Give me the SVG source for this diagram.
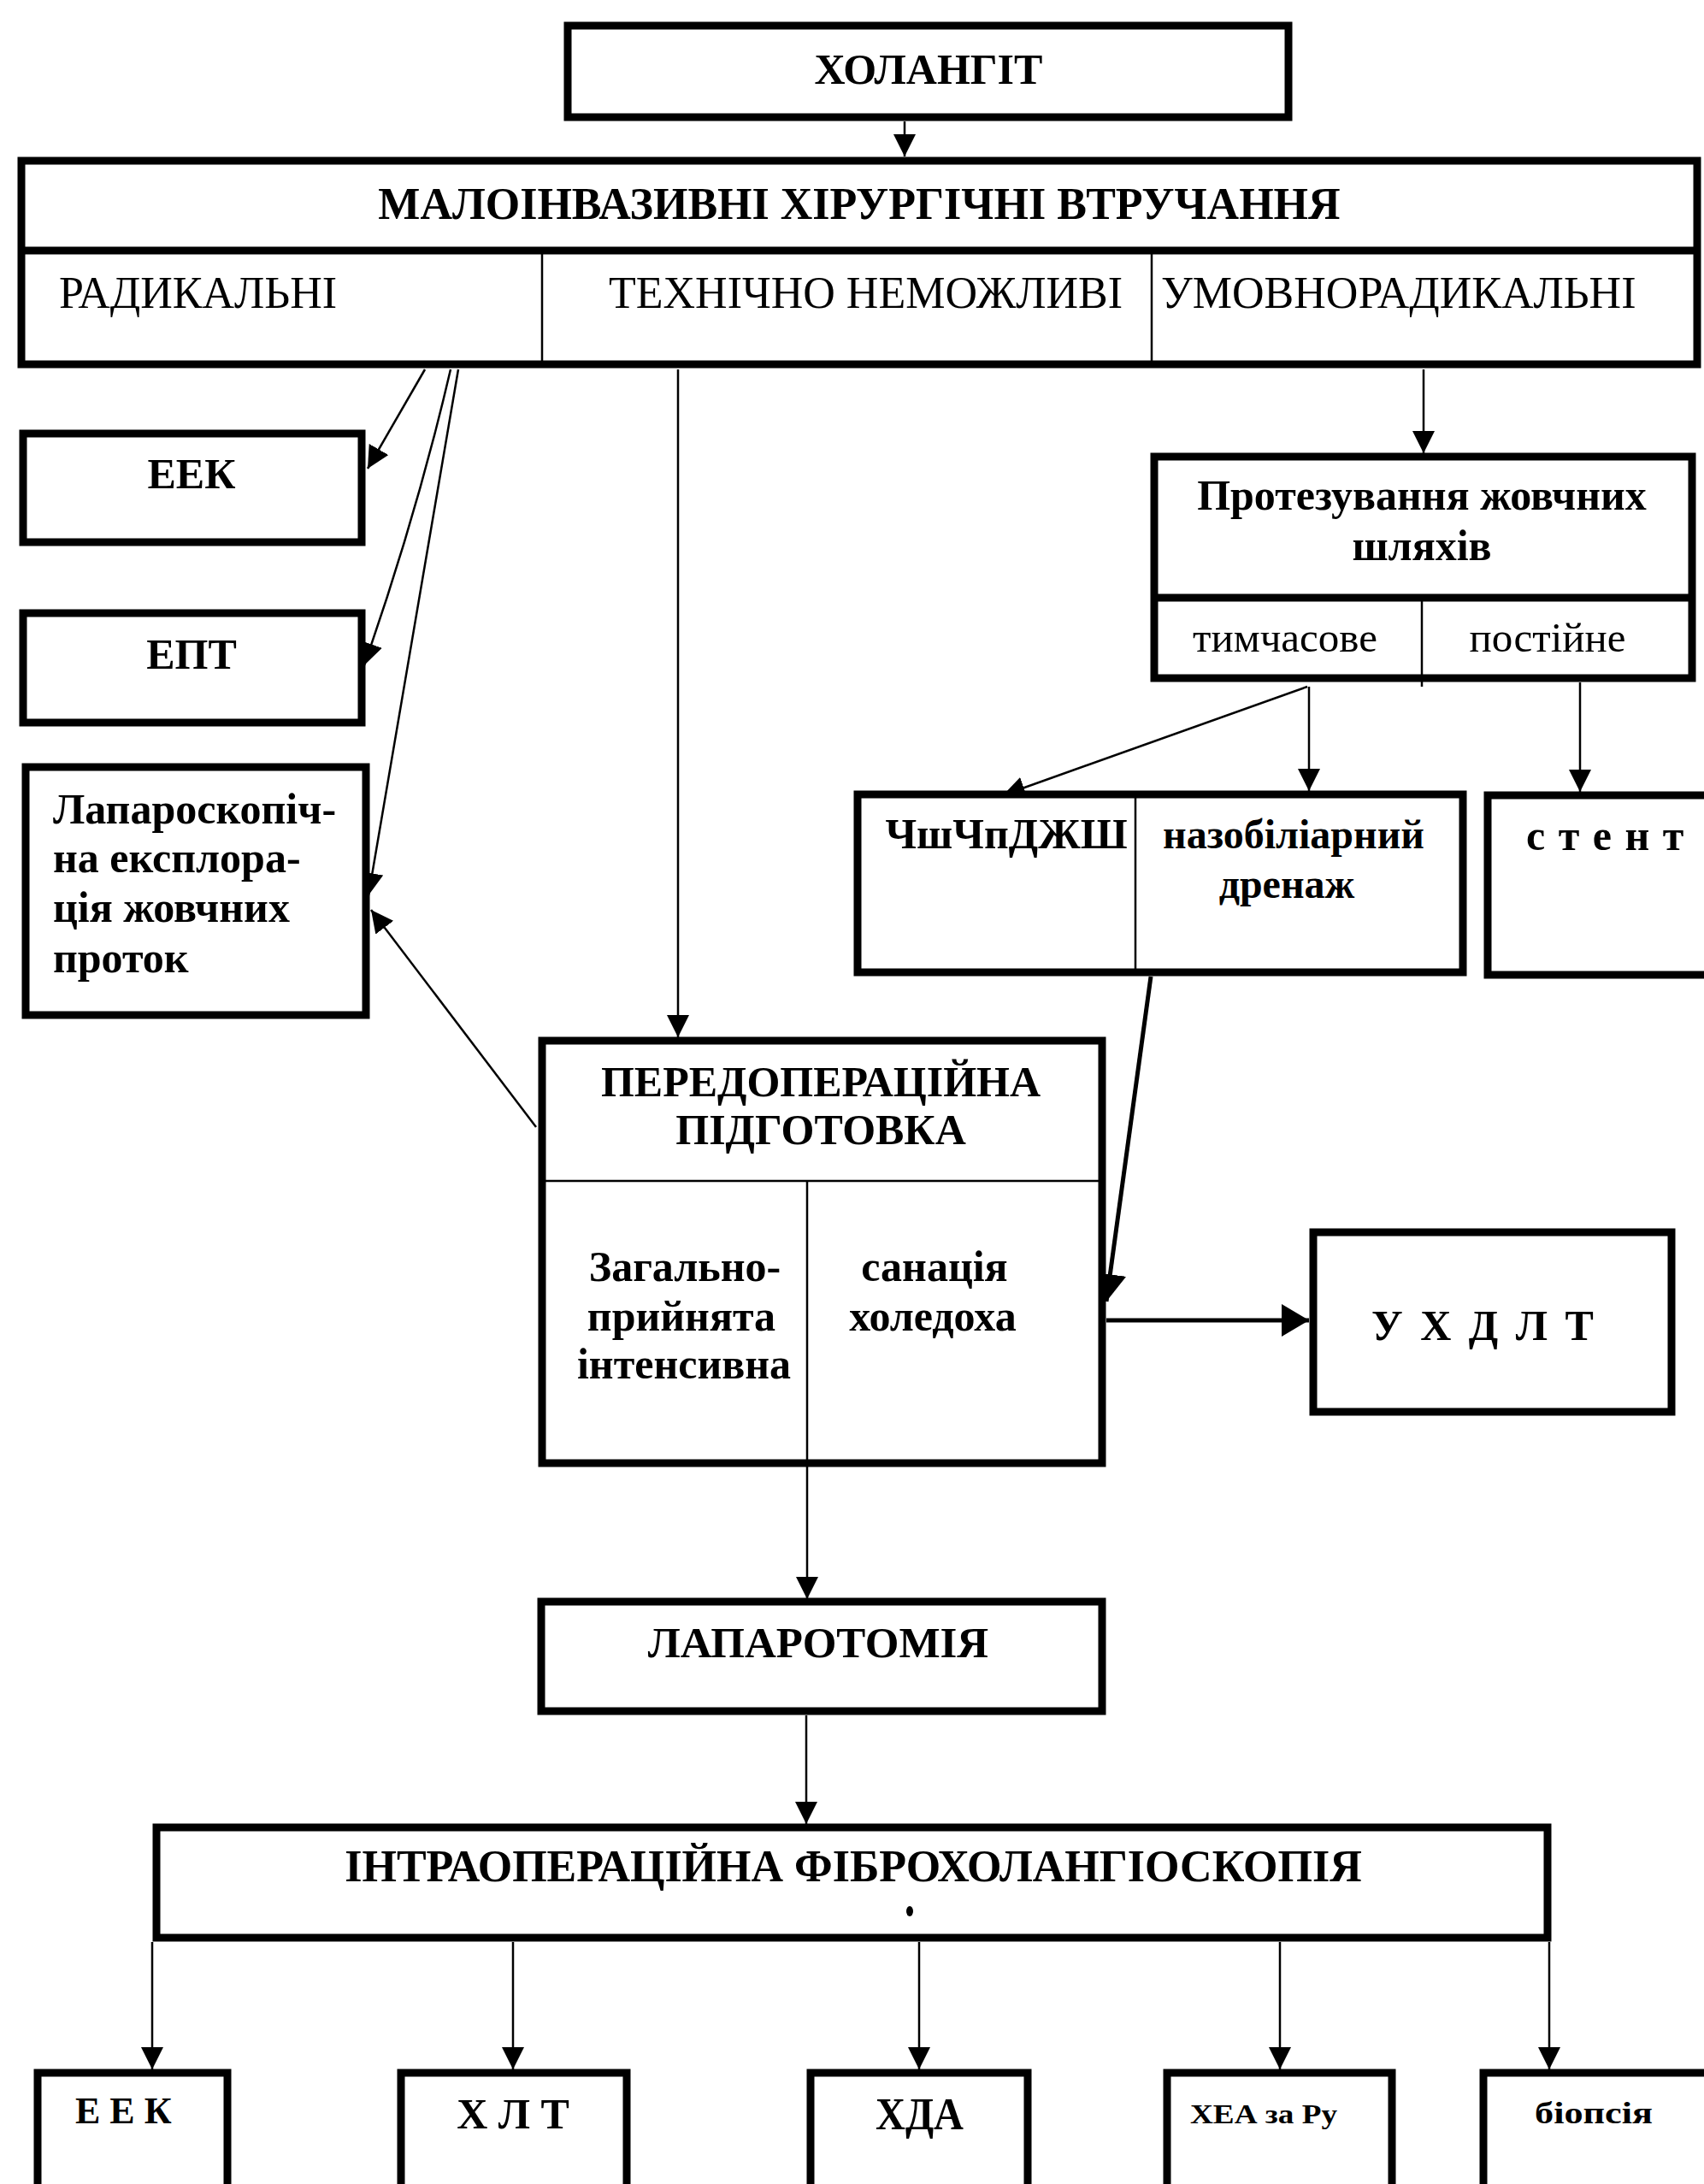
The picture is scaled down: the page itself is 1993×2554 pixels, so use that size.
<svg xmlns="http://www.w3.org/2000/svg" width="1993" height="2554" viewBox="0 0 1993 2554">
<style>
.box{fill:#fff;stroke:#000;stroke-width:9}
.div{stroke:#000;stroke-width:2.5;fill:none}
.divk{stroke:#000;stroke-width:9;fill:none}
.c{stroke:#000;stroke-width:2.5;fill:none}
.ck{stroke:#000;stroke-width:5;fill:none}
text{font-family:"Liberation Serif","Times New Roman",serif;fill:#000}
.b{font-weight:bold;font-size:50px}
.bm{font-weight:bold;font-size:48px}
.r{font-weight:normal;font-size:52px}
.rs{font-weight:normal;font-size:49px}
.m{text-anchor:middle}
</style>
<defs>
<marker id="ah" viewBox="0 0 10 10" refX="10" refY="5" markerUnits="userSpaceOnUse" markerWidth="26" markerHeight="26" orient="auto">
<path d="M0,0 L10,5 L0,10 z" fill="#000"/>
</marker>
<marker id="ahk" viewBox="0 0 10 10" refX="10" refY="5" markerUnits="userSpaceOnUse" markerWidth="32" markerHeight="38" orient="auto" preserveAspectRatio="none">
<path d="M0,0 L10,5 L0,10 z" fill="#000"/>
</marker>
</defs>

<g id="connectors">
<line class="c" x1="1058" y1="142" x2="1058" y2="183" marker-end="url(#ah)"/>
<line class="c" x1="497" y1="432" x2="430" y2="548" marker-end="url(#ah)"/>
<path class="c" d="M527,432 Q488,600 426,778" marker-end="url(#ah)"/>
<line class="c" x1="536" y1="432" x2="431" y2="1047" marker-end="url(#ah)"/>
<line class="c" x1="627" y1="1318" x2="434" y2="1064" marker-end="url(#ah)"/>
<line class="c" x1="793" y1="432" x2="793" y2="1213" marker-end="url(#ah)"/>
<line class="c" x1="1665" y1="432" x2="1665" y2="530" marker-end="url(#ah)"/>
<line class="c" x1="1529" y1="803" x2="1173" y2="930" marker-end="url(#ah)"/>
<line class="c" x1="1531" y1="803" x2="1531" y2="925" marker-end="url(#ah)"/>
<line class="c" x1="1848" y1="798" x2="1848" y2="926" marker-end="url(#ah)"/>
<line class="ck" x1="1346" y1="1142" x2="1294" y2="1522" marker-end="url(#ahk)"/>
<line class="ck" x1="1294" y1="1544" x2="1531" y2="1544" marker-end="url(#ahk)"/>
<line class="c" x1="944" y1="1716" x2="944" y2="1870" marker-end="url(#ah)"/>
<line class="c" x1="943" y1="2006" x2="943" y2="2133" marker-end="url(#ah)"/>
<line class="c" x1="178" y1="2271" x2="178" y2="2420" marker-end="url(#ah)"/>
<line class="c" x1="600" y1="2271" x2="600" y2="2420" marker-end="url(#ah)"/>
<line class="c" x1="1075" y1="2271" x2="1075" y2="2420" marker-end="url(#ah)"/>
<line class="c" x1="1497" y1="2271" x2="1497" y2="2420" marker-end="url(#ah)"/>
<line class="c" x1="1812" y1="2271" x2="1812" y2="2420" marker-end="url(#ah)"/>
</g>

<g id="n-cholangit">
<rect class="box" x="664" y="30" width="843" height="107"/>
<text class="b m" x="1086" y="98">ХОЛАНГІТ</text>
</g>

<g id="n-malo">
<rect class="box" x="25" y="188" width="1960" height="238"/>
<line class="divk" x1="25" y1="293" x2="1985" y2="293"/>
<line class="div" x1="634" y1="297" x2="634" y2="422"/>
<line class="div" x1="1347" y1="297" x2="1347" y2="422"/>
<text class="b m" style="font-size:52px" x="1005" y="256">МАЛОІНВАЗИВНІ ХІРУРГІЧНІ ВТРУЧАННЯ</text>
<text class="r" x="69" y="360">РАДИКАЛЬНІ</text>
<text class="r" x="712" y="360">ТЕХНІЧНО НЕМОЖЛИВІ</text>
<text class="r" x="1358" y="360">УМОВНОРАДИКАЛЬНІ</text>
</g>

<g id="n-eek">
<rect class="box" x="27" y="507" width="396" height="127"/>
<text class="b m" x="224" y="571">ЕЕК</text>
</g>

<g id="n-ept">
<rect class="box" x="27" y="717" width="396" height="128"/>
<text class="b m" x="224" y="782">ЕПТ</text>
</g>

<g id="n-lap">
<rect class="box" x="30" y="897" width="398" height="290"/>
<text class="b" x="62" y="963">Лапароскопіч-</text>
<text class="b" x="62" y="1020">на експлора-</text>
<text class="b" x="62" y="1078">ція жовчних</text>
<text class="b" x="62" y="1137">проток</text>
</g>

<g id="n-protez">
<rect class="box" x="1350" y="534" width="629" height="259"/>
<line class="divk" x1="1350" y1="699" x2="1979" y2="699"/>
<line class="div" x1="1663" y1="703" x2="1663" y2="803"/>
<text class="b m" x="1663" y="596">Протезування жовчних</text>
<text class="b m" x="1663" y="655">шляхів</text>
<text class="rs m" x="1503" y="762">тимчасове</text>
<text class="rs m" x="1810" y="762">постійне</text>
</g>

<g id="n-drain">
<rect class="box" x="1003" y="929" width="708" height="208"/>
<line class="div" x1="1328" y1="933" x2="1328" y2="1133"/>
<text class="b m" x="1177" y="992">ЧшЧпДЖШ</text>
<text class="bm m" x="1513" y="992">назобіліарний</text>
<text class="bm m" x="1505" y="1050">дренаж</text>
</g>

<g id="n-stent">
<rect class="box" x="1740" y="930" width="300" height="210"/>
<text class="b" x="1785" y="994" letter-spacing="1.5">с т е н т</text>
</g>

<g id="n-preop">
<rect class="box" x="634" y="1217" width="655" height="494"/>
<line class="div" x1="634" y1="1381" x2="1289" y2="1381"/>
<line class="div" x1="944" y1="1381" x2="944" y2="1716"/>
<text class="b m" x="960" y="1282">ПЕРЕДОПЕРАЦІЙНА</text>
<text class="b m" x="960" y="1338">ПІДГОТОВКА</text>
<text class="b m" x="801" y="1498">Загально-</text>
<text class="b m" x="797" y="1556">прийнята</text>
<text class="b m" x="800" y="1612">інтенсивна</text>
<text class="b m" x="1093" y="1498">санація</text>
<text class="b m" x="1091" y="1556">холедоха</text>
</g>

<g id="n-uhdlt">
<rect class="box" x="1536" y="1441" width="419" height="210"/>
<text class="b" x="1604" y="1567" letter-spacing="4">У Х Д Л Т</text>
</g>

<g id="n-laparotomy">
<rect class="box" x="633" y="1873" width="656" height="128"/>
<text class="b m" style="font-size:51px" x="957" y="1938">ЛАПАРОТОМІЯ</text>
</g>

<g id="n-intra">
<rect class="box" x="183" y="2137" width="1627" height="129"/>
<text class="b m" style="font-size:52px" x="998" y="2200">ІНТРАОПЕРАЦІЙНА ФІБРОХОЛАНГІОСКОПІЯ</text>
<ellipse cx="1064" cy="2235" rx="4" ry="6" fill="#000"/>
</g>

<g id="n-b-eek">
<rect class="box" x="44" y="2424" width="222" height="200"/>
<text class="b" style="font-size:44px" x="88" y="2483">Е Е К</text>
</g>
<g id="n-b-hlt">
<rect class="box" x="469" y="2424" width="264" height="200"/>
<text class="b m" x="600" y="2489">Х Л Т</text>
</g>
<g id="n-b-hda">
<rect class="box" x="948" y="2424" width="254" height="200"/>
<text class="b" style="font-size:52px" x="1024" y="2490" textLength="103" lengthAdjust="spacingAndGlyphs">ХДА</text>
</g>
<g id="n-b-hea">
<rect class="box" x="1365" y="2424" width="263" height="200"/>
<text class="b" style="font-size:32px" x="1392" y="2483" textLength="172" lengthAdjust="spacingAndGlyphs">ХЕА за Ру</text>
</g>
<g id="n-b-biop">
<rect class="box" x="1735" y="2424" width="300" height="200"/>
<text class="b" style="font-size:36px" x="1795" y="2483" textLength="138" lengthAdjust="spacingAndGlyphs">біопсія</text>
</g>
</svg>
